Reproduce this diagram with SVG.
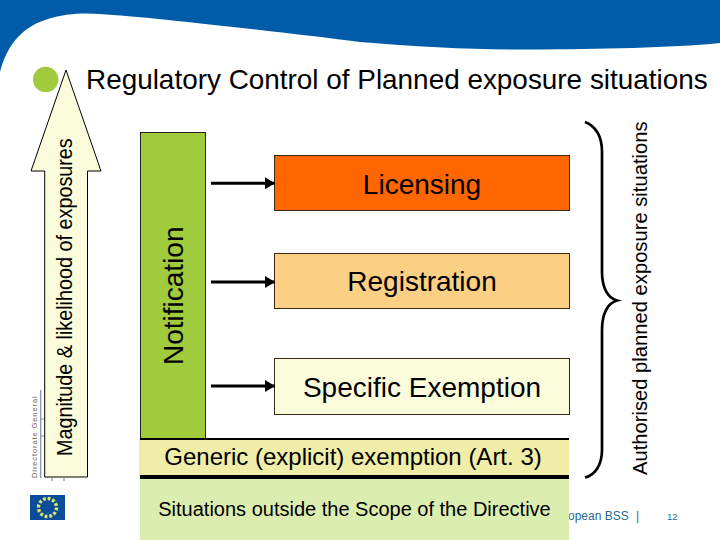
<svg xmlns="http://www.w3.org/2000/svg" width="720" height="540" viewBox="0 0 720 540">
<style>
text{font-family:"Liberation Sans",Arial,sans-serif;fill:#000}
.box{stroke:#3a2a10;stroke-width:1}
.conn{stroke:#000;stroke-width:3;fill:none}
.brace{stroke:#000;stroke-width:2.700;fill:none}
.lbl{font-size:28px;text-anchor:middle}
.foot{fill:#2b6a94}
</style>
<defs>
<marker id="ah" markerUnits="userSpaceOnUse" markerWidth="11" markerHeight="12" refX="10" refY="6" orient="auto"><path d="M0 0L10 6L0 12Z" fill="#000"/></marker>
</defs>
<rect width="720" height="540" fill="#fff"/>
<path id="band" d="M0 0H720V43C670 48 600 49 530 49.500C480 50 420 47 360 42C280 32 150 17 100 14C85 13 65 13 45 20C20 28 6 48 0 72Z" fill="#005CA9"/>
<g id="logo">
<path d="M40.700 390V478M41 419H44M41 436H44M52 478V481M64 478V481" stroke="#7f90a5" stroke-width="1.200" fill="none"/>
<text transform="translate(37 478) rotate(-90)" font-size="7.500" letter-spacing="0.900" style="fill:#666">Directorate General</text>
<rect x="30" y="495" width="35" height="25" fill="#0b4c9b"/>
<circle cx="47.500" cy="507.500" r="9" fill="none" stroke="#d8e860" stroke-width="3.400" stroke-dasharray="2.800 1.900"/>
</g>
<circle id="bullet" cx="45.700" cy="79.400" r="12.700" fill="#9FCB3C"/>
<text id="title" x="86" y="88.500" font-size="27.900">Regulatory Control of Planned exposure situations</text>
<g id="magnitude">
<path d="M66 70L101 171H87.500V477H44.700V171H31Z" fill="#FAFCDC" stroke="#000" stroke-width="1"/>
<text transform="translate(72 456) rotate(-90) scale(.9 1)" font-size="22">Magnitude &amp; likelihood of exposures</text>
</g>
<g id="notification">
<rect x="140.500" y="132.500" width="65" height="308" fill="#9FCB3C" stroke="#222" stroke-width="1"/>
<text transform="translate(183 365) rotate(-90)" font-size="28">Notification</text>
</g>
<g id="licensing">
<rect class="box" x="274.500" y="155.500" width="295" height="55" fill="#FF6600"/>
<text class="lbl" x="422" y="194">Licensing</text>
</g>
<g id="registration">
<rect class="box" x="274.500" y="253.500" width="295" height="55" fill="#FBD084"/>
<text class="lbl" x="422" y="291">Registration</text>
</g>
<g id="specific">
<rect class="box" x="274.500" y="358.500" width="295" height="56" fill="#FAFCDC"/>
<text class="lbl" x="422" y="397">Specific Exemption</text>
</g>
<g id="footer">
<text class="foot" x="568" y="520" font-size="12">opean BSS</text>
<text class="foot" x="636" y="520" font-size="12">|</text>
<text class="foot" x="667" y="520" font-size="9.500">12</text>
</g>
<g id="generic">
<rect x="139" y="439" width="430" height="37" fill="#F0EDA8"/>
<path d="M140 439H569" stroke="#000" stroke-width="2"/>
<path d="M140 477H569" stroke="#000" stroke-width="4"/>
<text x="353" y="465" font-size="24" text-anchor="middle">Generic (explicit) exemption (Art. 3)</text>
</g>
<g id="outside">
<rect x="140" y="479" width="429" height="61" fill="#DCEDB0"/>
<text x="354.500" y="516" font-size="20" text-anchor="middle">Situations outside the Scope of the Directive</text>
</g>
<g id="connectors">
<path class="conn" d="M211 183.300H275" marker-end="url(#ah)"/>
<path class="conn" d="M211 282H275" marker-end="url(#ah)"/>
<path class="conn" d="M211 386H275" marker-end="url(#ah)"/>
<path class="brace" d="M585 122C595 126 602 134 602 152V272C602 288 608 298 617 300.500C608 303 602 313 602 330V450C602 465 595 475 585 477.500"/>
</g>
<g id="authorised">
<text transform="translate(647 475) rotate(-90)" font-size="20.200">Authorised planned exposure situations</text>
</g>
</svg>
